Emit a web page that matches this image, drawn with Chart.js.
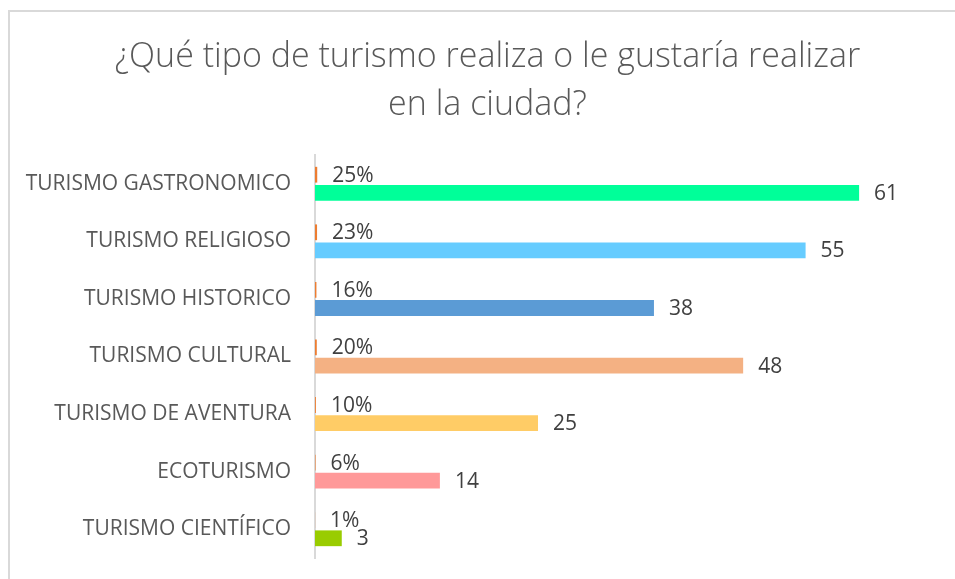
<!DOCTYPE html>
<html>
<head>
<meta charset="utf-8">
<script src="https://cdn.jsdelivr.net/npm/chart.js@4.4.0/dist/chart.umd.min.js"></script>
<style>
  html, body { margin: 0; padding: 0; background: #fff; width: 955px; height: 579px; overflow: hidden; }
  #frame { position: absolute; left: 8px; top: 10px; width: 945px; height: 567px;
           border-left: 2px solid #d9d9d9; border-top: 2px solid #d9d9d9; }
  #wrap { position: absolute; left: 0; top: 0; width: 955px; height: 579px; }
</style>
</head>
<body>
<div id="frame"></div>
<div id="wrap"><canvas id="chart" width="955" height="579"></canvas></div>
<script>
const categories = [
  "TURISMO GASTRONOMICO",
  "TURISMO RELIGIOSO",
  "TURISMO HISTORICO",
  "TURISMO CULTURAL",
  "TURISMO DE AVENTURA",
  "ECOTURISMO",
  "TURISMO CIENTÍFICO"
];
const percentages = [25, 23, 16, 20, 10, 6, 1];
const counts = [61, 55, 38, 48, 25, 14, 3];
const countColors = ["#00FF99", "#66CCFF", "#5B9BD5", "#F4B183", "#FFCC66", "#FF9999", "#99CC00"];

const valueLabels = {
  id: "valueLabels",
  afterDatasetsDraw(chart) {
    const ctx = chart.ctx;
    ctx.save();
    ctx.fillStyle = "#404040";
    ctx.font = "21px 'Open Sans'";
    ctx.textAlign = "left";
    ctx.textBaseline = "middle";
    chart.data.datasets.forEach((ds, i) => {
      chart.getDatasetMeta(i).data.forEach((bar, j) => {
        const txt = i === 0 ? percentages[j] + "%" : String(counts[j]);
        ctx.fillText(txt, bar.x + 15, bar.y + 1);
      });
    });
    ctx.restore();
  }
};

new Chart(document.getElementById("chart"), {
  type: "bar",
  data: {
    labels: categories,
    datasets: [
      {
        label: "Porcentaje",
        data: percentages.map(p => p / 100),
        backgroundColor: "#ED7D31",
        categoryPercentage: 0.63,
        barPercentage: 0.87
      },
      {
        label: "Cantidad",
        data: counts,
        backgroundColor: countColors,
        categoryPercentage: 0.63,
        barPercentage: 0.87
      }
    ]
  },
  options: {
    indexAxis: "y",
    responsive: false,
    animation: false,
    layout: { padding: { left: 20, right: 0, top: 0, bottom: 21 } },
    plugins: {
      legend: { display: false },
      tooltip: { enabled: false },
      title: {
        display: true,
        text: ["¿Qué tipo de turismo realiza o le gustaría realizar", "en la ciudad?"],
        color: "#595959",
        font: { family: "'Open Sans'", size: 34, weight: 300, lineHeight: 48 / 34 },
        padding: { top: 33, bottom: 26 }
      }
    },
    scales: {
      x: { display: false, min: 0, max: 71.75 },
      y: {
        afterFit(scale) {
          scale.width = 295;
          scale.paddingTop = 0;
          scale.paddingBottom = 0;
        },
        grid: { display: false, drawTicks: false },
        border: { display: true, color: "#d9d9d9", width: 2 },
        ticks: { color: "#595959", padding: 24, font: { family: "'Open Sans'", size: 21 } }
      }
    }
  },
  plugins: [valueLabels]
});
</script>
</body>
</html>
